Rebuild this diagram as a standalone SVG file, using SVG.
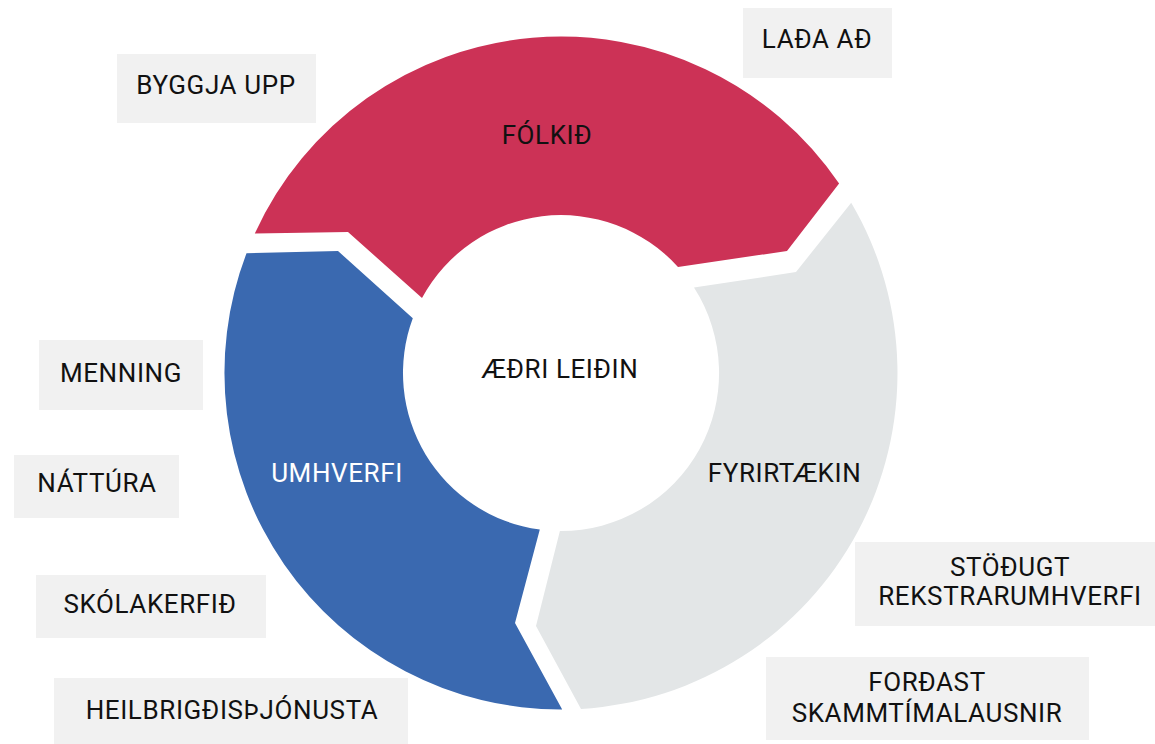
<svg xmlns="http://www.w3.org/2000/svg" width="1155" height="744" viewBox="0 0 1155 744">
<style>
.lbl{fill:#f1f1f1}
text{font-family:Roboto,"Liberation Sans",sans-serif;font-size:26px;fill:#111;text-anchor:middle;letter-spacing:0.6px}
.w{fill:#ffffff}
</style>
<rect width="1155" height="744" fill="#ffffff"/>
<g id="ring">
<g id="folkid">
<path d="M254.8,233.5 A336.5,336.5 0 0 1 839.1,183.6 L787,251 L678,266.9 A158,158 0 0 0 422,298 L348,232 Z" fill="#cc3256"/>
<text x="547" y="144">FÓLKIÐ</text>
</g>
<g id="fyrirtaekin">
<path d="M851.2,202.7 A336.5,336.5 0 0 1 581,708.9 L536,626 L559.9,531 A158,158 0 0 0 694,287.6 L796,272 Z" fill="#e3e6e7"/>
<text x="784.5" y="482">FYRIRTÆKIN</text>
</g>
<g id="umhverfi">
<path d="M562.2,709.5 A336.5,336.5 0 0 1 246.5,253.2 L338,251 L412.8,318.2 A158,158 0 0 0 539.8,529.6 L515,623 Z" fill="#3a69b0"/>
<text class="w" x="337" y="482">UMHVERFI</text>
</g>
<g id="center">
<text x="560" y="378">ÆÐRI LEIÐIN</text>
</g>
</g>
<g id="connectors"/>
<g id="byggja-upp"><rect class="lbl" x="117" y="54" width="199" height="69"/><text x="216" y="94">BYGGJA UPP</text></g>
<g id="lada-ad"><rect class="lbl" x="743" y="8" width="149" height="70"/><text x="817" y="48">LAÐA AÐ</text></g>
<g id="menning"><rect class="lbl" x="39" y="340" width="164" height="70"/><text x="121" y="382">MENNING</text></g>
<g id="nattura"><rect class="lbl" x="14" y="455" width="165" height="63"/><text x="97" y="492">NÁTTÚRA</text></g>
<g id="skolakerfid"><rect class="lbl" x="36" y="575" width="230" height="63"/><text x="150" y="613">SKÓLAKERFIÐ</text></g>
<g id="heilbrigdis"><rect class="lbl" x="54" y="678" width="354" height="66"/><text x="232" y="719">HEILBRIGÐISÞJÓNUSTA</text></g>
<g id="stodugt"><rect class="lbl" x="855" y="542" width="300" height="84"/><text x="1010" y="576">STÖÐUGT</text><text x="1010" y="605">REKSTRARUMHVERFI</text></g>
<g id="fordast"><rect class="lbl" x="766" y="657" width="323" height="83"/><text x="927" y="691">FORÐAST</text><text x="927" y="722">SKAMMTÍMALAUSNIR</text></g>
</svg>
